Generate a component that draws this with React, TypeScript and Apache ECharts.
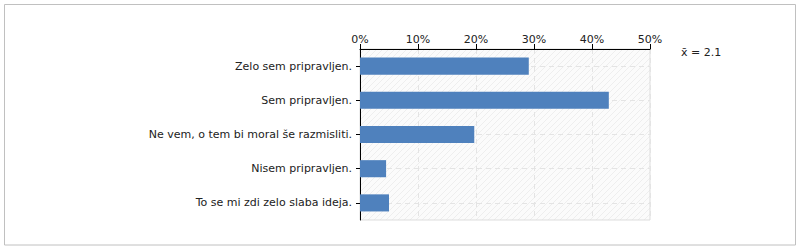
import React, { useEffect, useRef } from "react";
import * as echarts from "echarts";

const categories = [
  "Zelo sem pripravljen.",
  "Sem pripravljen.",
  "Ne vem, o tem bi moral še razmisliti.",
  "Nisem pripravljen.",
  "To se mi zdi zelo slaba ideja.",
];
const percentages = [29.1, 42.9, 19.7, 4.5, 5.0];
const meanLabel = "x̄ = 2.1";
const xMax = 50;
const xInterval = 10;

function makeHatch(): HTMLCanvasElement {
  const c = document.createElement("canvas");
  c.width = 6;
  c.height = 6;
  const ctx = c.getContext("2d")!;
  ctx.fillStyle = "#fbfbfb";
  ctx.fillRect(0, 0, 6, 6);
  ctx.strokeStyle = "#eeeeee";
  ctx.lineWidth = 1;
  ctx.beginPath();
  ctx.moveTo(0, 6);
  ctx.lineTo(6, 0);
  ctx.stroke();
  return c;
}

export default function App() {
  const ref = useRef<HTMLDivElement>(null);
  useEffect(() => {
    if (!ref.current) return;
    const chart = echarts.init(ref.current, null, { renderer: "svg" });
    const font = "DejaVu Sans, Verdana, sans-serif";
    chart.setOption({
      animation: false,
      textStyle: { fontFamily: font },
      grid: {
        left: 360,
        top: 49,
        right: 150,
        bottom: 30,
        show: true,
        backgroundColor: { image: makeHatch(), repeat: "repeat" } as any,
        borderColor: "#dddddd",
        borderWidth: 1,
      },
      xAxis: {
        type: "value",
        position: "top",
        min: 0,
        max: xMax,
        interval: xInterval,
        axisLine: { show: true, lineStyle: { color: "#000", width: 1 } },
        axisTick: { show: true, length: 5, lineStyle: { color: "#000" } },
        axisLabel: {
          formatter: "{value}%",
          color: "#222",
          fontSize: 11,
          fontFamily: font,
          margin: 4,
        },
        splitLine: {
          show: true,
          lineStyle: { color: "#e4e4e4", type: [5, 4], width: 1 },
        },
      },
      yAxis: {
        type: "category",
        data: categories,
        inverse: true,
        axisLine: { show: true, lineStyle: { color: "#000", width: 1 } },
        axisTick: {
          show: true,
          length: 4,
          alignWithLabel: true,
          lineStyle: { color: "#000" },
        },
        axisLabel: {
          color: "#222",
          fontSize: 11,
          fontFamily: font,
          margin: 8,
        },
        splitLine: {
          show: true,
          alignWithLabel: true,
          lineStyle: { color: "#e4e4e4", type: [5, 4], width: 1 },
        } as any,
      },
      series: [
        {
          type: "bar",
          data: percentages,
          barWidth: "50%",
          itemStyle: { color: "#4f81bd" },
        },
      ],
      graphic: [
        {
          type: "rect",
          shape: { x: 4.5, y: 4.5, width: 791, height: 240.5 },
          style: { fill: "none", stroke: "#c0c0c0", lineWidth: 1 },
          silent: true,
        },
        {
          type: "text",
          x: 681,
          y: 47,
          style: {
            text: meanLabel,
            fill: "#222",
            font: `11px ${font}`,
          },
        },
      ],
    });
    return () => chart.dispose();
  }, []);
  return (
    <div
      ref={ref}
      style={{ position: "absolute", left: 0, top: 0, width: 800, height: 250 }}
    />
  );
}
